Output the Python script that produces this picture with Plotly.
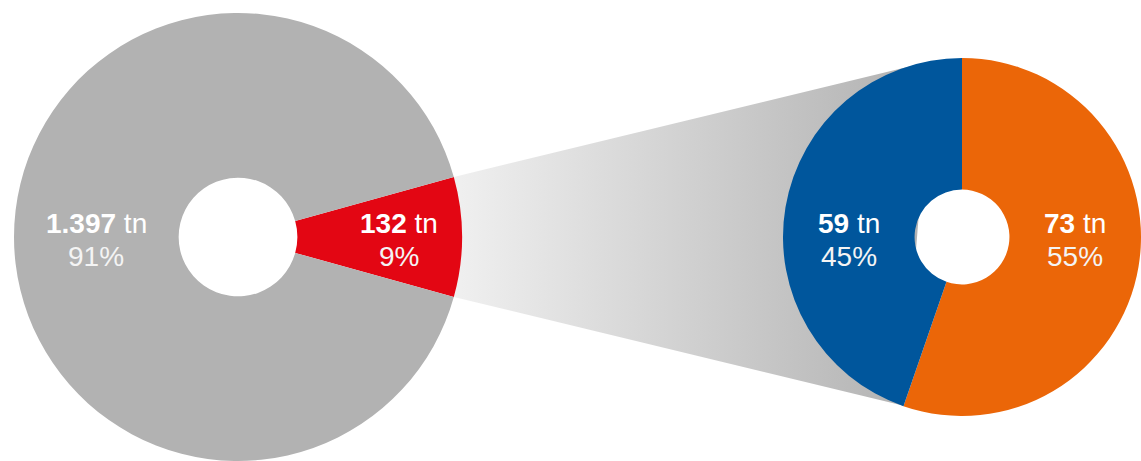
import math
import plotly.graph_objects as go

# ---- data ----
total_labels = ["Red", "Other"]
total_values = [132, 1397]          # tn
total_pct = ["9%", "91%"]
split_labels = ["Orange", "Blue"]
split_values = [73, 59]             # tn
split_pct = ["55%", "45%"]

GREY = "#b2b2b2"
RED = "#e30613"
ORANGE = "#eb6608"
BLUE = "#00569c"

W, H = 1141, 461
HOLE = 0.265


def fit(cx, cy, r):
    """Largest radius <= r that keeps the pie inside the figure."""
    return min(r, cx, W - cx, cy, H - cy)


L_cx, L_cy = 238, 237
L_r = fit(L_cx, L_cy, 227)
R_cx, R_cy = 962, 237
R_r = fit(R_cx, R_cy, 181)

fig = go.Figure()

red_frac = total_values[0] / sum(total_values)
rot_left = 90 - red_frac * 180
org_frac = split_values[0] / sum(split_values)


def pt(cx, cy, r, ang):
    a = math.radians(ang)
    return cx + r * math.sin(a), cy - r * math.cos(a)


tl = pt(L_cx, L_cy, L_r, rot_left)
bl = pt(L_cx, L_cy, L_r, rot_left + red_frac * 360)
tr = pt(R_cx, R_cy, R_r - 0.5, -10)
br = pt(R_cx, R_cy, R_r - 0.5, org_frac * 360)

fig.add_trace(go.Scatter(
    x=[tl[0], tr[0], br[0], bl[0], tl[0]],
    y=[tl[1], tr[1], br[1], bl[1], tl[1]],
    mode="lines", line=dict(width=0), fill="toself",
    fillgradient=dict(type="horizontal",
                      colorscale=[[0, "#f0f0f0"], [1, "#b0b0b0"]]),
    hoverinfo="skip", showlegend=False,
))


def dom(cx, cy, r):
    return dict(x=[(cx - r) / W, (cx + r) / W],
                y=[(H - (cy + r)) / H, (H - (cy - r)) / H])


fig.add_trace(go.Pie(
    labels=total_labels, values=total_values, sort=False,
    direction="clockwise", rotation=rot_left, hole=HOLE,
    marker=dict(colors=[RED, GREY], line=dict(width=0)),
    textinfo="none", hoverinfo="skip", showlegend=False,
    domain=dom(L_cx, L_cy, L_r),
))
fig.add_trace(go.Pie(
    labels=split_labels, values=split_values, sort=False,
    direction="clockwise", rotation=0, hole=HOLE,
    marker=dict(colors=[ORANGE, BLUE], line=dict(width=0)),
    textinfo="none", hoverinfo="skip", showlegend=False,
    domain=dom(R_cx, R_cy, R_r),
))

FONT = "Liberation Sans, Arial, Helvetica, sans-serif"


def fmt(v):
    return f"{v:,}".replace(",", ".")


labels = [
    (L_cx - (L_r * (1 + HOLE) / 2), total_values[1], total_pct[1]),
    (L_cx + L_r * 0.72, total_values[0], total_pct[0]),
    (R_cx - (R_r * (1 + HOLE) / 2), split_values[1], split_pct[1]),
    (R_cx + (R_r * (1 + HOLE) / 2), split_values[0], split_pct[0]),
]
for x, v, p in labels:
    fig.add_annotation(x=x, y=L_cy - 14, xref="x", yref="y",
                       text=f"<b>{fmt(v)}</b> tn", showarrow=False,
                       font=dict(family=FONT, size=28, color="white"),
                       xanchor="center", yanchor="middle")
    fig.add_annotation(x=x, y=L_cy + 19, xref="x", yref="y",
                       text=p, showarrow=False,
                       font=dict(family=FONT, size=28, color="#f4f4f4"),
                       xanchor="center", yanchor="middle")

fig.update_layout(
    width=W, height=H, margin=dict(l=0, r=0, t=0, b=0),
    paper_bgcolor="white", plot_bgcolor="white",
    xaxis=dict(range=[0, W], visible=False, fixedrange=True),
    yaxis=dict(range=[H, 0], visible=False, fixedrange=True),
    showlegend=False,
)

fig.write_html(
    "out.html",
    config={"displayModeBar": False},
    post_script="document.body.style.margin='0';"
                "document.body.style.overflow='hidden';",
)
